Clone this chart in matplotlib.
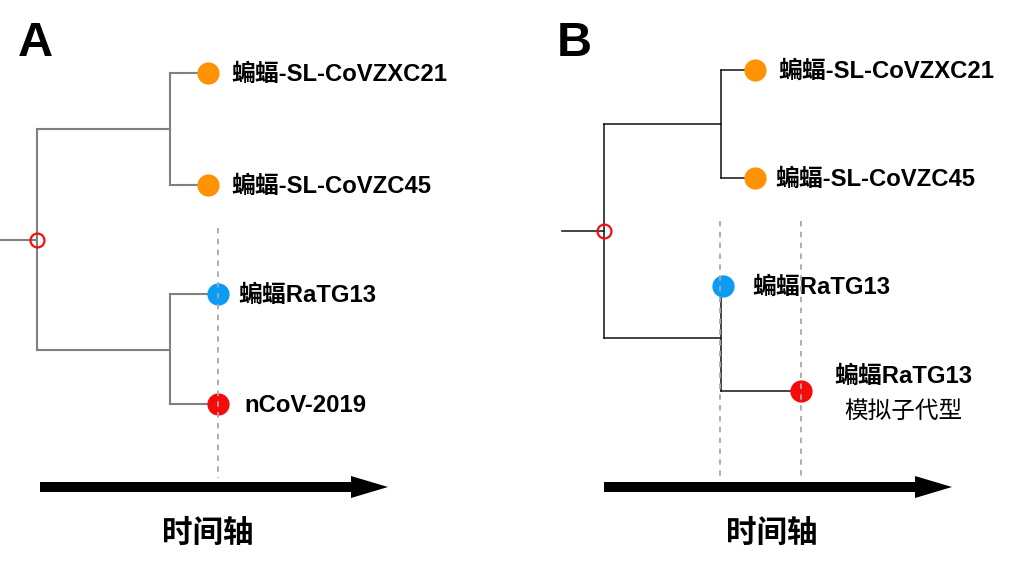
import matplotlib
matplotlib.use("Agg")
import matplotlib.pyplot as plt

plt.rcParams['font.family'] = ['Noto Sans CJK SC', 'DejaVu Sans']
LABEL_FAMILY = ['Liberation Sans', 'Noto Sans CJK SC', 'DejaVu Sans']

# ---------------- data ----------------
panel_letters = ["A", "B"]
axis_label = "时间轴"

# Panel A tree
a_root = (37, 240)
a_stem_x = 0
a_clade_y = [129, 350]          # internal clade nodes (y)
a_clade_x = [170, 170]
a_tip_names = ["蝙蝠-SL-CoVZXC21", "蝙蝠-SL-CoVZC45", "蝙蝠RaTG13", "nCoV-2019"]
a_tip_x = [208, 208, 218, 218]
a_tip_y = [73, 185, 294, 404]
a_tip_colors = ["#FF9305", "#FF9305", "#0A9BF5", "#F70A0A"]
a_label_x = [231, 231, 238, 244]
a_dash_x = [218]

# Panel B tree
b_root = (604, 231)
b_stem_x = 562
b_clade_y = [124, 338]
b_clade_x = [721, 721]
b_tip_names = ["蝙蝠-SL-CoVZXC21", "蝙蝠-SL-CoVZC45", "蝙蝠RaTG13", "蝙蝠RaTG13\n模拟子代型"]
b_tip_x = [755, 755, 723, 801]
b_tip_y = [70, 178, 286, 391]
b_tip_colors = ["#FF9305", "#FF9305", "#0A9BF5", "#F70A0A"]
b_label_x = [778, 775, 752, 903]
b_dash_x = [720, 801]

# ---------------- figure ----------------
W, H = 1014, 562
fig = plt.figure(figsize=(W / 100, H / 100), dpi=100)
ax = fig.add_axes([0, 0, 1, 1])
ax.set_xlim(0, W)
ax.set_ylim(H, 0)
ax.axis("off")

dot_ms = 16
label_fs = 17.2
label_dy = 1.5


def draw_panel(root, stem_x, clade_x, clade_y, tip_x, tip_y, colors, names,
               label_x, dash_x, dash_top, line_color, lw, letter, letter_x,
               arrow_x0, arrow_x1, time_x, special_last=False):
    rx, ry = root
    # stem
    ax.plot([stem_x, rx], [ry, ry], color=line_color, lw=lw, zorder=2)
    # root vertical
    ax.plot([rx, rx], [clade_y[0], clade_y[1]], color=line_color, lw=lw, zorder=2)
    # clade horizontals
    for cx, cy in zip(clade_x, clade_y):
        ax.plot([rx, cx], [cy, cy], color=line_color, lw=lw, zorder=2)
    # upper clade
    cx = clade_x[0]
    ax.plot([cx, cx], [tip_y[0], tip_y[1]], color=line_color, lw=lw, zorder=2)
    for i in (0, 1):
        ax.plot([cx, tip_x[i]], [tip_y[i], tip_y[i]], color=line_color, lw=lw, zorder=2)
    # lower clade
    cx = clade_x[1]
    ax.plot([cx, cx], [tip_y[2], tip_y[3]], color=line_color, lw=lw, zorder=2)
    for i in (2, 3):
        ax.plot([cx, tip_x[i]], [tip_y[i], tip_y[i]], color=line_color, lw=lw, zorder=2)
    # root circle
    ax.plot([rx], [ry], marker="o", ms=10, mfc="none", mec="#F01010", mew=1.6, zorder=4)
    # dashed time lines
    for dx in dash_x:
        ax.plot([dx, dx], [dash_top, 478], color="#A8A8A8", lw=1.3,
                ls=(0, (3, 3)), zorder=5)
    # tips
    for x, y, c in zip(tip_x, tip_y, colors):
        ax.plot([x], [y], marker="o", ms=dot_ms, mfc=c, mec="none", zorder=3)
    # labels
    for i, (lx, y, n) in enumerate(zip(label_x, tip_y, names)):
        if special_last and i == 3:
            l1, l2 = n.split("\n")
            ax.text(lx, 375 + label_dy, l1, fontsize=label_fs, fontweight="bold",
                    ha="center", va="center", family=LABEL_FAMILY)
            ax.text(lx, 410 + label_dy, l2, fontsize=17, fontweight="medium",
                    ha="center", va="center")
        else:
            ax.text(lx, y + label_dy, n, fontsize=label_fs, fontweight="bold",
                    ha="left", va="center", family=LABEL_FAMILY)
    # letter
    ax.text(letter_x, 56, letter, fontsize=35, fontweight="bold",
            ha="left", va="baseline", family=["Liberation Sans", "DejaVu Sans"])
    # time arrow
    ax.arrow(arrow_x0, 487, arrow_x1 - arrow_x0, 0, width=10, head_width=22,
             head_length=37, length_includes_head=True, fc="black", ec="black",
             lw=0, zorder=3)
    ax.text(time_x, 533, axis_label, fontsize=22, fontweight="bold",
            ha="center", va="center")


draw_panel(a_root, a_stem_x, a_clade_x, a_clade_y, a_tip_x, a_tip_y,
           a_tip_colors, a_tip_names, a_label_x, a_dash_x, 228, "#808080", 1.5,
           panel_letters[0], 18, 40, 388, 208)
draw_panel(b_root, b_stem_x, b_clade_x, b_clade_y, b_tip_x, b_tip_y,
           b_tip_colors, b_tip_names, b_label_x, b_dash_x, 221, "#111111", 1.1,
           panel_letters[1], 557, 604, 952, 772, special_last=True)

fig.savefig("out.png", dpi=100)
